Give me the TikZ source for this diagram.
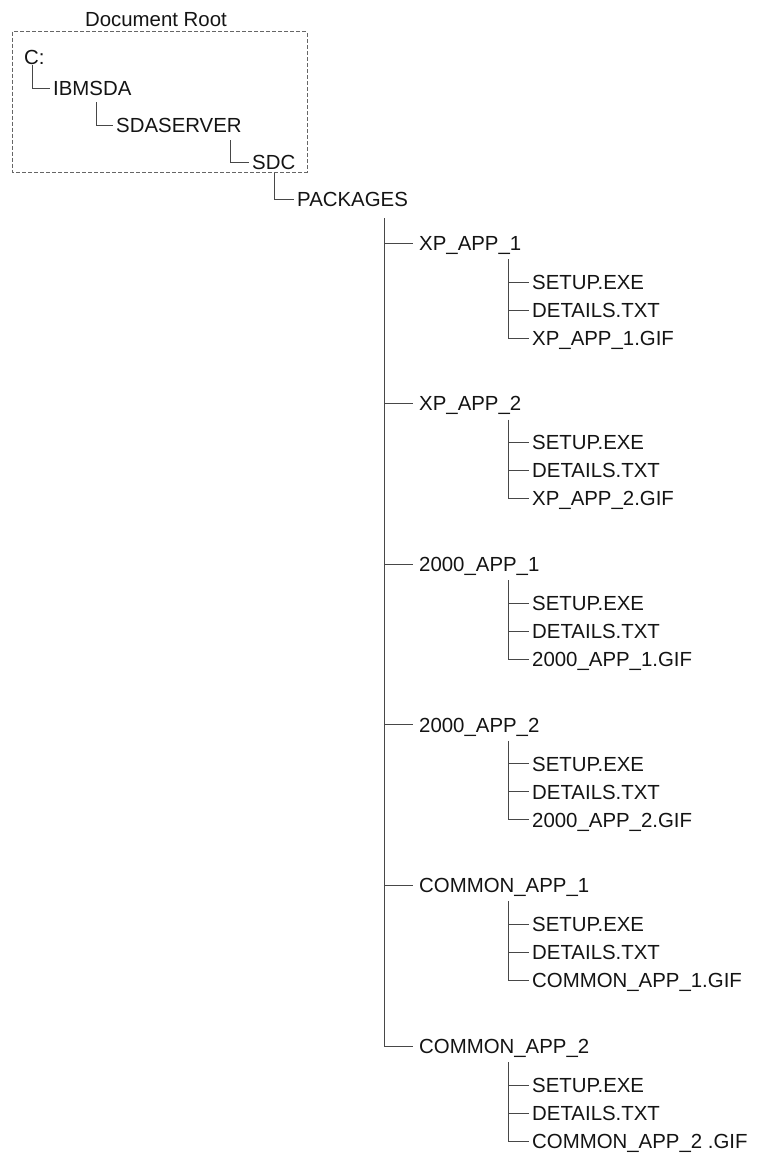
\documentclass[tikz,border=0pt]{standalone}
\usepackage{fontspec}
\setmainfont{Liberation Sans}
\begin{document}
\begin{tikzpicture}[x=1pt,y=-1pt,
  lbl/.style={anchor=west,inner ysep=0pt,inner xsep=3pt,text height=14.6pt,text depth=0pt,
    font=\fontsize{20.4pt}{24pt}\selectfont,text=black!92},
  parent/.style={lbl,inner xsep=6pt},
  conn/.style={draw=black!72,line width=1pt},
  rootbox/.style={draw=black!60,line width=1pt,dash pattern=on 4pt off 2pt}]
\useasboundingbox (0,0) rectangle (757,1156);
% document root box
\node[lbl,anchor=center] (docroot) at (156,19.7) {Document Root};
\draw[rootbox] (12.5,31.7) rectangle (307,172);
% top chain
\node[lbl] (c) at (21,57) {C:};
\node[lbl] (ibmsda) at (50,88.5) {IBMSDA};
\node[lbl] (sdaserver) at (113,125) {SDASERVER};
\node[lbl] (sdc) at (249,162) {SDC};
\node[lbl] (packages) at (294,199) {PACKAGES};
\draw[conn] (c.west) ++(11,8) |- (ibmsda.west);
\draw[conn] (ibmsda.west) ++(46,13.5) |- (sdaserver.west);
\draw[conn] (sdaserver.west) ++(117,15) |- (sdc.west);
\draw[conn] (sdc.west) ++(25,11) |- (packages.west);
% packages
\node[parent] (p1) at (413,243) {XP\_APP\_1};
\node[parent] (p2) at (413,403.6) {XP\_APP\_2};
\node[parent] (p3) at (413,564.2) {2000\_APP\_1};
\node[parent] (p4) at (413,724.8) {2000\_APP\_2};
\node[parent] (p5) at (413,885.4) {COMMON\_APP\_1};
\node[parent] (p6) at (413,1046) {COMMON\_APP\_2};
\coordinate (trunk) at (384,218);
\draw[conn] (packages.west) ++(90,19) |- (p6.west);
\foreach \p in {p1,p2,p3,p4,p5}{
  \draw[conn] (trunk |- \p.west) -- (\p.west);
}
% children
\foreach \p/\g in {p1/XP\_APP\_1.GIF,p2/XP\_APP\_2.GIF,p3/2000\_APP\_1.GIF,p4/2000\_APP\_2.GIF,p5/COMMON\_APP\_1.GIF,p6/COMMON\_APP\_2 .GIF}{
  \node[lbl] (\p s) at ([shift={(116,39)}]\p.west) {SETUP.EXE};
  \node[lbl] (\p d) at ([shift={(116,67)}]\p.west) {DETAILS.TXT};
  \node[lbl] (\p g) at ([shift={(116,95)}]\p.west) {\g};
  \coordinate (\p v) at ([shift={(95,16)}]\p.west);
  \draw[conn] (\p v) |- (\p g.west);
  \draw[conn] (\p v |- \p s.west) -- (\p s.west);
  \draw[conn] (\p v |- \p d.west) -- (\p d.west);
}
\end{tikzpicture}
\end{document}
